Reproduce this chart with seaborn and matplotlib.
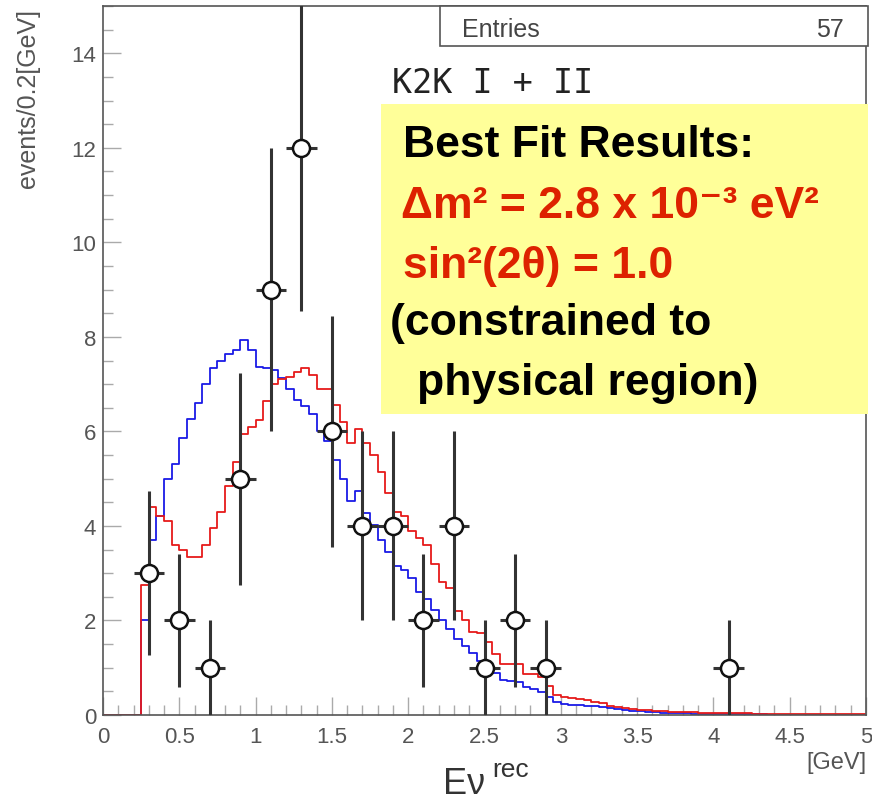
import numpy as np
import pandas as pd
import matplotlib
matplotlib.use("Agg")
import matplotlib.pyplot as plt
import matplotlib.patches as patches
from matplotlib.ticker import MultipleLocator, FormatStrFormatter
import seaborn as sns

# === Data: 0.05 GeV bins from 0 to 5 GeV ===
bin_edges = [round(0.05 * i, 3) for i in range(101)]

# no-oscillation expectation (blue)
blue_vals = [
    0, 0, 0, 0, 0, 2.0, 3.7, 4.2, 5.0, 5.3,
    5.85, 6.27, 6.6, 7.0, 7.35, 7.5, 7.63, 7.73, 7.93, 7.73,
    7.36, 7.35, 7.29, 7.13, 6.89, 6.67, 6.53, 6.36, 6.0, 5.79,
    5.4, 5.0, 4.52, 4.73, 4.27, 4.02, 3.7, 3.45, 3.15, 3.07,
    2.89, 2.6, 2.45, 2.23, 2.0, 1.83, 1.6, 1.45, 1.31, 1.15,
    1.01, 0.88, 0.73, 0.72, 0.69, 0.6, 0.55, 0.48, 0.38, 0.27,
    0.23, 0.22, 0.21, 0.2, 0.19, 0.17, 0.14, 0.12, 0.1, 0.09,
    0.08, 0.07, 0.06, 0.05, 0.05, 0.04, 0.04, 0.03, 0.03, 0.03,
    0.03, 0.02, 0.02, 0.02, 0.02, 0.02, 0.02, 0.01, 0.01, 0.01,
    0.01, 0.01, 0.01, 0.01, 0.01, 0.01, 0.01, 0.01, 0.01, 0.01,
]

# best fit oscillation (red)
red_vals = [
    0, 0, 0, 0, 0, 2.75, 4.4, 4.2, 4.1, 3.6,
    3.5, 3.35, 3.35, 3.6, 3.95, 4.3, 4.85, 5.35, 5.95, 6.1,
    6.25, 6.65, 7.0, 7.1, 7.15, 7.25, 7.35, 7.2, 6.9, 6.9,
    6.55, 6.2, 5.75, 6.05, 5.75, 5.5, 5.15, 4.7, 4.3, 4.2,
    3.9, 3.75, 3.6, 3.2, 2.82, 2.68, 2.2, 2.02, 1.75, 1.74,
    1.54, 1.3, 1.08, 1.08, 1.08, 0.87, 0.87, 0.8, 0.62, 0.42,
    0.38, 0.36, 0.34, 0.32, 0.28, 0.25, 0.2, 0.17, 0.14, 0.12,
    0.11, 0.1, 0.09, 0.08, 0.07, 0.07, 0.06, 0.06, 0.05, 0.05,
    0.05, 0.04, 0.04, 0.04, 0.04, 0.03, 0.03, 0.03, 0.03, 0.03,
    0.03, 0.03, 0.02, 0.02, 0.02, 0.02, 0.02, 0.02, 0.02, 0.02,
]

# observed events, 0.2 GeV bins
data_x = [0.3, 0.5, 0.7, 0.9, 1.1, 1.3, 1.5, 1.7, 1.9, 2.1, 2.3, 2.5, 2.7, 2.9, 4.1]
data_y = [3, 2, 1, 5, 9, 12, 6, 4, 4, 2, 4, 1, 2, 1, 1]
data_err = [1.73, 1.41, 1.0, 2.24, 3.0, 3.46, 2.45, 2.0, 2.0, 1.41, 2.0, 1.0, 1.41, 1.0, 1.0]
data_xerr = 0.1

centers = np.array(bin_edges[:-1]) + 0.025
mc = pd.DataFrame({"E": centers, "blue": blue_vals, "red": red_vals})
obs = pd.DataFrame({"E": data_x, "n": data_y, "err": data_err})

# === Style ===
sns.set_style("white")
plt.rcParams["font.family"] = ["Liberation Sans", "DejaVu Sans"]

W, H = 872, 804
fig = plt.figure(figsize=(W / 100, H / 100), dpi=100)
ax = fig.add_axes([103 / W, 1 - 716 / H, (866 - 103) / W, (716 - 7) / H])

# === MC histograms ===
sns.histplot(data=mc, x="E", weights="blue", bins=bin_edges, element="step",
             fill=False, color="#1a1ae6", linewidth=1.3, ax=ax)
sns.histplot(data=mc, x="E", weights="red", bins=bin_edges, element="step",
             fill=False, color="#e61a1a", linewidth=1.3, ax=ax)

# === Data points ===
ax.errorbar(obs["E"], obs["n"], yerr=obs["err"], xerr=data_xerr, fmt="none",
            ecolor="#333333", elinewidth=2.2, capsize=0, zorder=4)
sns.scatterplot(data=obs, x="E", y="n", marker="o", s=150, color="white",
                edgecolor="#111111", linewidth=1.8, zorder=5, ax=ax)

# === Axes ===
ax.set_xlim(0, 5)
ax.set_ylim(0, 15)
ax.set_xlabel("")
ax.set_ylabel("")
ax.xaxis.set_major_locator(MultipleLocator(0.5))
ax.xaxis.set_minor_locator(MultipleLocator(0.1))
ax.yaxis.set_major_locator(MultipleLocator(2))
ax.yaxis.set_minor_locator(MultipleLocator(0.5))
ax.xaxis.set_major_formatter(FormatStrFormatter("%g"))
ax.tick_params(which="both", direction="in", colors="#aaaaaa", labelcolor="#555555",
               labelsize=16, bottom=True, left=True, top=False, right=False)
ax.tick_params(which="major", length=13, width=1)
ax.tick_params(which="minor", length=7, width=1)
ax.tick_params(axis="x", pad=8)
ax.tick_params(axis="y", pad=5)
for sp in ax.spines.values():
    sp.set_color("#555555")
    sp.set_linewidth(1.2)

# === Annotations ===
fig.text(28 / W, 1 - 9 / H, "events/0.2[GeV]", rotation=90, ha="center", va="top",
         fontsize=18, color="#555555")
fig.text(866 / W, 1 - 763 / H, "[GeV]", ha="right", va="center", fontsize=17, color="#555555")
fig.text(443 / W, 1.5 / H, "Eν", ha="left", va="bottom", fontsize=26,
         color="#333333")
fig.text(492 / W, 1 - 777 / H, "rec", ha="left", va="baseline", fontsize=19,
         color="#333333")

# stats box
fig.patches.append(patches.Rectangle((440 / W, 1 - 47 / H), (868 - 440) / W, 40 / H,
                                     transform=fig.transFigure, facecolor="white",
                                     edgecolor="#555555", linewidth=1.2, zorder=6))
fig.text(462 / W, 1 - 37 / H, "Entries", ha="left", va="baseline", fontsize=18,
         color="#444444", zorder=7)
fig.text(844 / W, 1 - 37 / H, "57", ha="right", va="baseline", fontsize=18,
         color="#444444", zorder=7)

fig.text(392 / W, 1 - 93 / H, "K2K I + II", ha="left", va="baseline", fontsize=24,
         color="#222222", family=["DejaVu Sans Mono"])

# yellow box with fit results
fig.patches.append(patches.Rectangle((381 / W, 1 - 415 / H), (868 - 381) / W, 310 / H,
                                     transform=fig.transFigure, facecolor="#ffff99",
                                     edgecolor="none", zorder=6))
bold = dict(ha="left", va="baseline", fontsize=32, fontweight="bold", zorder=7)
red_txt = "#dd2200"
fig.text(403 / W, 1 - 157 / H, "Best Fit Results:", color="black", **bold)
fig.text(401 / W, 1 - 218 / H, "Δm² = 2.8 x 10⁻³ eV²", color=red_txt, **bold)
fig.text(403 / W, 1 - 278 / H, "sin²(2θ) = 1.0", color=red_txt, **bold)
fig.text(390 / W, 1 - 335 / H, "(constrained to", color="black", **bold)
fig.text(417 / W, 1 - 395 / H, "physical region)", color="black", **bold)

plt.savefig("out.png", dpi=100)
plt.close()
